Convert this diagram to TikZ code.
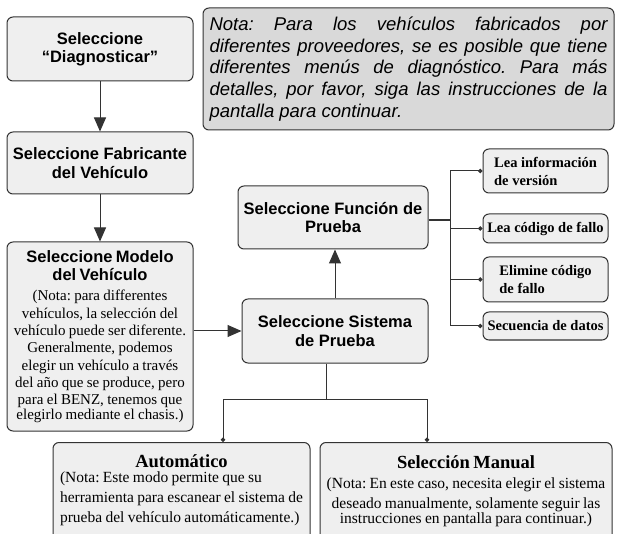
\documentclass[tikz,border=0pt]{standalone}
\usepackage{fontspec}
\setmainfont{Liberation Serif}
\newfontfamily\hv{Liberation Sans}
\usetikzlibrary{arrows.meta,positioning}

\definecolor{boxfill}{HTML}{EFEFEF}
\definecolor{notefill}{HTML}{D9D9D9}
\definecolor{boxline}{HTML}{333333}
\newcommand\ttlfont{\hv\bfseries\fontsize{16.5}{18.3}\selectfont}

\begin{document}
\frenchspacing
\begin{tikzpicture}[x=1pt, y=-1pt, line width=1pt, draw=boxline, >={Triangle[length=14pt, width=12pt]},
  main/.style = {draw=boxline, fill=boxfill, rounded corners=6pt, align=center, inner sep=2pt},
  big/.style = {main, font=\ttlfont},
  item/.style = {main, align=left, minimum width=125pt, font=\bfseries\fontsize{14.5}{18}\selectfont},
  dot/.style = {-{Circle[length=4.5pt]}}]
\useasboundingbox (0,0) rectangle (618,534);
\clip (0,0) rectangle (618,534);

\node[big, minimum width=186pt, minimum height=64pt] (1) at (100,49) {Seleccione\\“Diagnosticar”};
\node[big, minimum width=186pt, minimum height=62pt] (2) at (100,163) {Seleccione Fabricante\\del Vehículo};
\node[main, minimum width=186pt, minimum height=189pt, text width=182pt] (3) at (100,336.5)
  {{\ttlfont Seleccione Modelo\\del Vehículo\par}\vspace{3pt}
  \fontsize{15}{17.3}\selectfont (Nota: para differentes\\vehículos, la selección del\\vehículo puede ser diferente.\\Generalmente, podemos\\elegir un vehículo a través\\del año que se produce, pero\\para el BENZ, tenemos que\\elegirlo mediante el chasis.)};

% nota
\node[main, fill=notefill, minimum width=411pt, minimum height=122pt, text width=398pt, align=justify,
  font=\hv\itshape\fontsize{18.5}{21.8}\selectfont] (n) at (408.5,69)
  {Nota: Para los vehículos fabricados por\linebreak diferentes proveedores, se es posible que tiene\linebreak diferentes menús de diagnóstico. Para más\linebreak detalles, por favor, siga las instrucciones de la\linebreak pantalla para continuar.};

\node[big, minimum width=190pt, minimum height=63pt] (4) at (333,217.5) {Seleccione Función de\\Prueba};
\node[big, minimum width=186pt, minimum height=64pt] (5) at (335,331) {Seleccione Sistema\\de Prueba};

\node[item, minimum height=44pt] (6) at (545.5,171) {Lea información\\de versión};
\node[item, minimum height=29pt] (7) at (545.5,228.5) {Lea código de fallo};
\node[item, minimum height=45pt] (8) at (545.5,279.5) {Elimine código\\de fallo};
\node[item, minimum height=28pt] (9) at (545.5,326) {Secuencia de datos};

\node[main, minimum width=257pt, minimum height=98pt, text width=250pt, anchor=north] (10) at (181.5,442)
  {\fontsize{15.5}{20}\selectfont{\bfseries\fontsize{18.5}{20}\selectfont Automático}\\
  \begin{tabular}[t]{@{}l@{}}(Nota: Este modo permite que su\\herramienta para escanear el sistema de\\prueba del vehículo automáticamente.)\end{tabular}};
\node[main, minimum width=292pt, minimum height=98pt, text width=288pt, anchor=north] (11) at (466,442)
  {\fontsize{15.5}{20}\selectfont{\bfseries\fontsize{18.5}{20}\selectfont Selección Manual}\\
  (Nota: En este caso, necesita elegir el sistema\\deseado manualmente, solamente seguir las\\instrucciones en pantalla para continuar.)};

\draw[->] (1) -- (2);
\draw[->] (2) -- (3);
\draw[->] (3.east |- 5.west) -- (5.west);
\draw[->] (5.north) -- (5.north |- 4.south);
\coordinate (b) at (450,220);
\draw[line width=2pt] (4.east |- b) -- (b);
\foreach \i in {6,...,9}
  \draw[dot] (b) |- (\i.west);
\coordinate (c) at (326,399);
\draw (5.south -| c) -- (c);
\draw[dot] (c) -| ([xshift=41.5pt]10.north);
\draw[dot] (c) -| ([xshift=-39pt]11.north);
\end{tikzpicture}
\end{document}
